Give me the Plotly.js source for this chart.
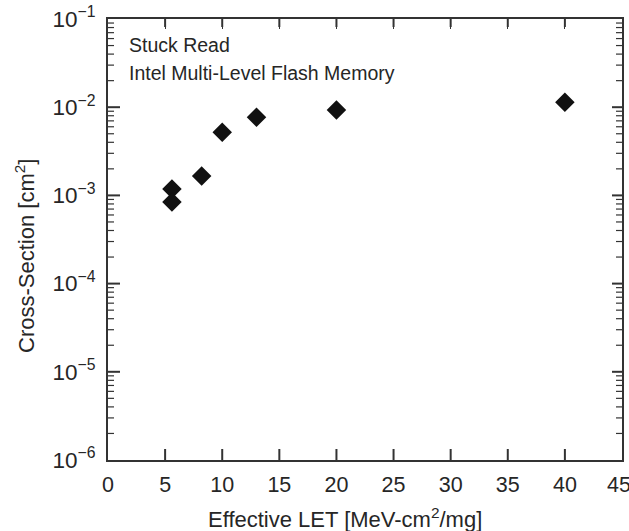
<!DOCTYPE html>
<html>
<head>
<meta charset="utf-8">
<script src="https://cdn.plot.ly/plotly-3.0.1.min.js"></script>
<style>html,body{margin:0;padding:0;background:#fff;}#chart{width:629px;height:531px;}</style>
</head>
<body>
<div id="chart"></div>
<script>
// Data
const effectiveLET = [5.6, 5.6, 8.2, 10.0, 13.0, 20.0, 40.0];
const crossSection = [1.18e-3, 8.4e-4, 1.66e-3, 5.2e-3, 7.7e-3, 9.3e-3, 1.14e-2];
const yTickVals = [1e-6, 1e-5, 1e-4, 1e-3, 1e-2, 1e-1];
const yTickText = ['10<sup>−6</sup>', '10<sup>−5</sup>', '10<sup>−4</sup>', '10<sup>−3</sup>', '10<sup>−2</sup>', '10<sup>−1</sup>'];
const xTickVals = [0, 5, 10, 15, 20, 25, 30, 35, 40, 45];
const xTickText = ['0', '5', '10', '15', '20', '25', '30', '35', '40', '45\u00a0'];
const noteLines = ['Stuck Read', 'Intel Multi-Level Flash Memory'];
const xTitle = 'Effective LET [MeV-cm<sup>2</sup>/mg]';
const yTitle = 'Cross-Section [cm<sup>2</sup>]';
const xRange = [0, 45];
const yRangeLog = [-6, -1];

// minor log ticks (2..9 in each decade)
const yMinorVals = [];
for (let e = yRangeLog[0]; e < yRangeLog[1]; e++) {
  for (let m = 2; m <= 9; m++) yMinorVals.push(m * Math.pow(10, e));
}

const FONT = 'Liberation Sans, Arial, sans-serif';
const INK = '#262626';
const TICK = '#333333';

const trace = {
  x: effectiveLET,
  y: crossSection,
  type: 'scatter',
  mode: 'markers',
  marker: {symbol: 'diamond', size: 15, color: '#111111'},
  showlegend: false,
  hoverinfo: 'x+y'
};

// inside tick marks as small filled rectangles at the tick positions
const xFrac = v => (v - xRange[0]) / (xRange[1] - xRange[0]);
const yFrac = v => (Math.log10(v) - yRangeLog[0]) / (yRangeLog[1] - yRangeLog[0]);
function vTick(f, atTop, len, w) {
  return {type: 'rect', layer: 'above', xref: 'paper', yref: 'paper',
    xsizemode: 'pixel', xanchor: f, x0: -w / 2, x1: w / 2,
    ysizemode: 'pixel', yanchor: atTop ? 1 : 0, y0: 0, y1: atTop ? -len : len,
    fillcolor: TICK, line: {width: 0}};
}
function hTick(f, atRight, len, w) {
  return {type: 'rect', layer: 'above', xref: 'paper', yref: 'paper',
    ysizemode: 'pixel', yanchor: f, y0: -w / 2, y1: w / 2,
    xsizemode: 'pixel', xanchor: atRight ? 1 : 0, x0: 0, x1: atRight ? -len : len,
    fillcolor: TICK, line: {width: 0}};
}
const tickShapes = [];
xTickVals.slice(1, -1).forEach(v => {
  tickShapes.push(vTick(xFrac(v), false, 11, 2));
  tickShapes.push(vTick(xFrac(v), true, 8, 2));
});
yTickVals.slice(1, -1).forEach(v => {
  tickShapes.push(hTick(yFrac(v), false, 12, 2));
  tickShapes.push(hTick(yFrac(v), true, 10, 2));
});
yMinorVals.forEach(v => {
  tickShapes.push(hTick(yFrac(v), false, 6, 1.2));
  tickShapes.push(hTick(yFrac(v), true, 6, 1.2));
});

const baseAxis = {
  showgrid: false,
  zeroline: false,
  showline: true,
  linecolor: '#333',
  linewidth: 2,
  mirror: 'ticks',
  ticks: 'inside',
  ticklen: 10,
  tickcolor: TICK,
  tickfont: {size: 21.5, color: INK}
};

const layout = {
  width: 629,
  height: 531,
  margin: {l: 108, r: 7, t: 19, b: 71},
  paper_bgcolor: '#ffffff',
  plot_bgcolor: '#ffffff',
  font: {family: FONT, color: INK, size: 21},
  xaxis: Object.assign({}, baseAxis, {
    range: xRange,
    tickmode: 'array',
    tickvals: xTickVals,
    ticktext: xTickText,
    ticklabeloverflow: 'allow',
    ticklabelstandoff: 4
  }),
  yaxis: Object.assign({}, baseAxis, {
    type: 'log',
    range: yRangeLog,
    tickmode: 'array',
    tickvals: yTickVals,
    ticktext: yTickText,
    ticklabelstandoff: 6,
    tickfont: {size: 22.5, color: INK}
  }),
  shapes: tickShapes,
  annotations: noteLines.map((t, i) => ({
    text: t,
    xref: 'paper', yref: 'paper',
    x: 0.037, y: [0.94, 0.877][i],
    xanchor: 'left', yanchor: 'middle',
    showarrow: false,
    font: {size: 19.5, color: INK, family: FONT}
  })).concat([
    {
      text: xTitle, xref: 'paper', yref: 'paper',
      x: (345 - 108) / 514, y: -(518 - 460) / 441,
      xanchor: 'center', yanchor: 'middle', showarrow: false,
      font: {size: 22, color: INK, family: FONT}
    },
    {
      text: yTitle, xref: 'paper', yref: 'paper', textangle: -90,
      x: -(108 - 25) / 514, y: (460 - 256) / 441,
      xanchor: 'center', yanchor: 'middle', showarrow: false,
      font: {size: 22, color: INK, family: FONT}
    }
  ])
};

Plotly.newPlot('chart', [trace], layout, {displayModeBar: false});
</script>
</body>
</html>
